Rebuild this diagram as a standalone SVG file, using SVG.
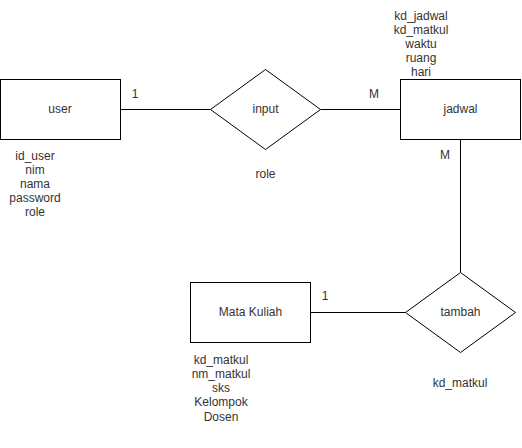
<svg xmlns="http://www.w3.org/2000/svg" width="522" height="448" viewBox="0 0 522 448">
<style>
.s{fill:#fff;stroke:#000;stroke-width:1}
.c{stroke:#000;stroke-width:1;fill:none}
text{font-family:"Liberation Sans",Arial,sans-serif;font-size:12px;fill:#333;text-anchor:middle}
</style>
<rect width="522" height="448" fill="#fff"/>
<g id="connectors">
<line class="c" x1="120.5" y1="109.5" x2="210.5" y2="109.5"/>
<line class="c" x1="320.5" y1="109.5" x2="400.5" y2="109.5"/>
<line class="c" x1="460.5" y1="139.5" x2="460.5" y2="272.5"/>
<line class="c" x1="310.5" y1="312.5" x2="405.5" y2="312.5"/>
<text x="135" y="98">1</text>
<text x="374" y="98">M</text>
<text x="445" y="159">M</text>
<text x="325" y="300">1</text>
</g>
<g id="user">
<rect class="s" x="0.5" y="79.5" width="120" height="60"/>
<text x="60" y="113">user</text>
<text x="35" y="160">id_user</text>
<text x="35" y="174">nim</text>
<text x="35" y="188">nama</text>
<text x="35" y="202">password</text>
<text x="35" y="216">role</text>
</g>
<g id="input">
<polygon class="s" points="210.5,109.5 265.5,69.5 320.5,109.5 265.5,149.5"/>
<text x="265.5" y="113">input</text>
<text x="265.5" y="178">role</text>
</g>
<g id="jadwal">
<rect class="s" x="400.5" y="79.5" width="120" height="60"/>
<text x="460.5" y="113">jadwal</text>
<text x="421" y="20">kd_jadwal</text>
<text x="421" y="34">kd_matkul</text>
<text x="421" y="48">waktu</text>
<text x="421" y="62">ruang</text>
<text x="421" y="76">hari</text>
</g>
<g id="tambah">
<polygon class="s" points="405.5,312.5 460.5,272.5 515.5,312.5 460.5,352.5"/>
<text x="460.5" y="316">tambah</text>
<text x="460" y="387">kd_matkul</text>
</g>
<g id="matakuliah">
<rect class="s" x="190.5" y="282.5" width="120" height="60"/>
<text x="250.5" y="316">Mata Kuliah</text>
<text x="221" y="364">kd_matkul</text>
<text x="221" y="378">nm_matkul</text>
<text x="221" y="392">sks</text>
<text x="221" y="406">Kelompok</text>
<text x="221" y="421">Dosen</text>
</g>
</svg>
